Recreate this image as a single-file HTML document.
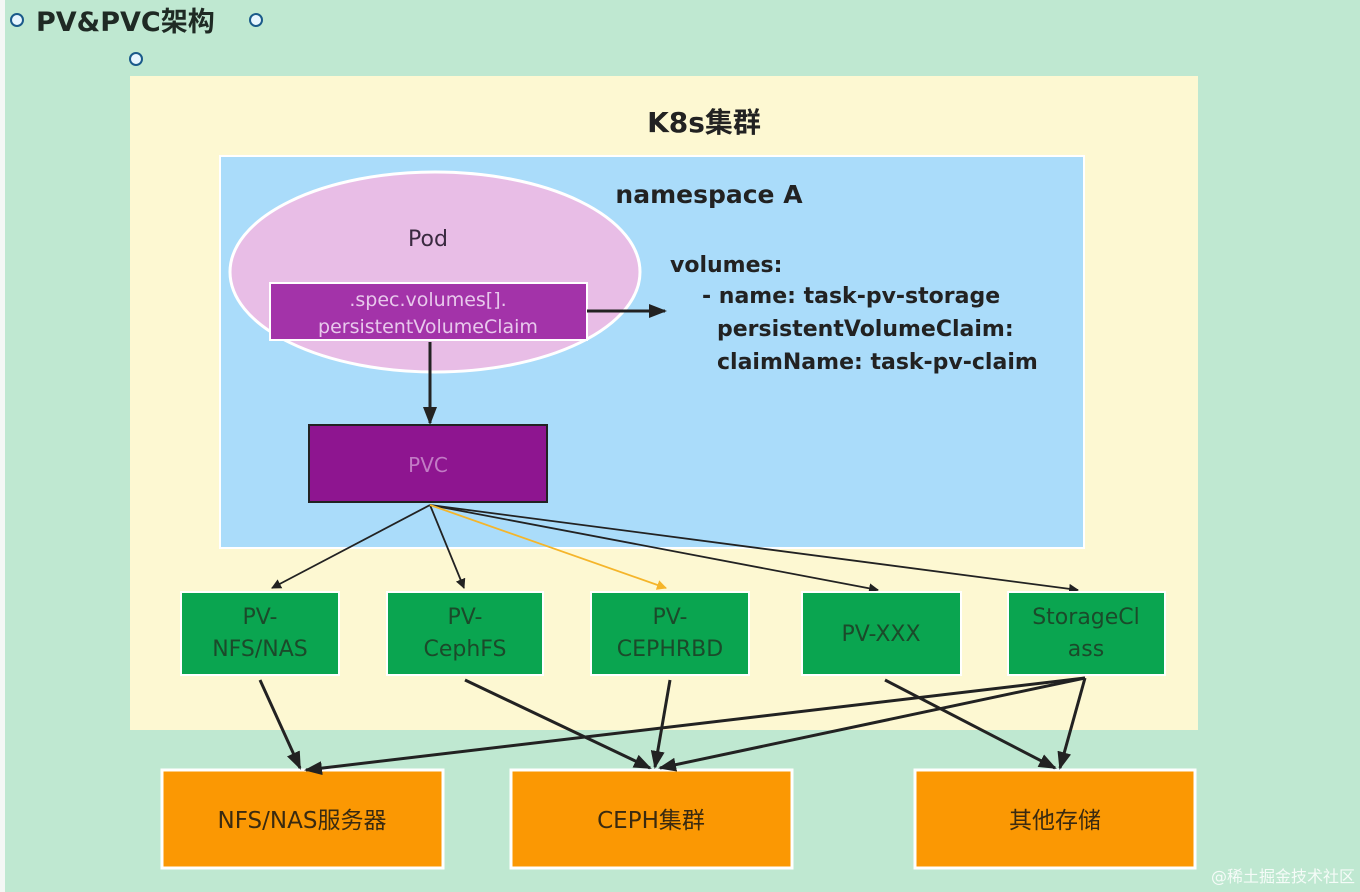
<!DOCTYPE html>
<html><head><meta charset="utf-8"><style>
html,body{margin:0;padding:0;width:1360px;height:892px;overflow:hidden;background:#bfe8d1;}
svg{display:block}
text{font-family:"DejaVu Sans","Noto Sans CJK SC",sans-serif;}
</style></head><body>
<svg width="1360" height="892" viewBox="0 0 1360 892" xmlns="http://www.w3.org/2000/svg">
<defs>
<marker id="a" markerWidth="10" markerHeight="10" refX="9" refY="5" orient="auto" markerUnits="userSpaceOnUse"><path d="M0,0 L10,5 L0,10 z" fill="#222"/></marker>
<marker id="ab" markerWidth="18" markerHeight="14" refX="16" refY="7" orient="auto" markerUnits="userSpaceOnUse"><path d="M0,0 L18,7 L0,14 z" fill="#222"/></marker>
<marker id="ay" markerWidth="10" markerHeight="10" refX="9" refY="5" orient="auto" markerUnits="userSpaceOnUse"><path d="M0,0 L10,5 L0,10 z" fill="#f5b52a"/></marker>
</defs>
<rect x="0" y="0" width="1360" height="892" fill="#bfe8d1"/>
<rect x="0" y="0" width="5" height="892" fill="#f4f7f5"/>
<circle cx="17" cy="20" r="6" fill="#e8f6ff" stroke="#1a5a8a" stroke-width="2"/>
<circle cx="256" cy="20" r="6" fill="#e8f6ff" stroke="#1a5a8a" stroke-width="2"/>
<circle cx="136" cy="59" r="6" fill="#e8f6ff" stroke="#1a5a8a" stroke-width="2"/>
<text x="36" y="31" font-size="27" font-weight="bold" fill="#1f2a24">PV&amp;PVC架构</text>

<rect x="130" y="76" width="1068" height="654" fill="#fdf8d2"/>
<text x="704" y="132" font-size="28" font-weight="bold" fill="#222" text-anchor="middle">K8s集群</text>
<rect x="220" y="156" width="864" height="392" fill="#aadcfa" stroke="#fff" stroke-width="2"/>
<text x="709" y="203" font-size="25" font-weight="bold" fill="#222" text-anchor="middle">namespace A</text>

<ellipse cx="435" cy="272" rx="205" ry="100" fill="#e8bde6" stroke="#fff" stroke-width="3"/>
<text x="428" y="246" font-size="22" fill="#3a2a40" text-anchor="middle">Pod</text>
<rect x="270" y="283" width="317" height="57" fill="#a333a9" stroke="#fff" stroke-width="2"/>
<text x="428" y="306" font-size="19" fill="#e8c8ec" text-anchor="middle">.spec.volumes[].</text>
<text x="428" y="333" font-size="19" fill="#e8c8ec" text-anchor="middle">persistentVolumeClaim</text>
<line x1="587" y1="311" x2="665" y2="311" stroke="#222" stroke-width="3" marker-end="url(#ab)"/>
<line x1="430" y1="342" x2="430" y2="423" stroke="#222" stroke-width="3" marker-end="url(#ab)"/>

<g font-size="22" font-weight="bold" fill="#222">
<text x="670" y="272">volumes:</text>
<text x="702" y="303">- name: task-pv-storage</text>
<text x="717" y="336">persistentVolumeClaim:</text>
<text x="717" y="369">claimName: task-pv-claim</text>
</g>

<rect x="309" y="425" width="238" height="77" fill="#8e1590" stroke="#222" stroke-width="2"/>
<text x="428" y="472" font-size="20" fill="#c27bc5" text-anchor="middle">PVC</text>

<g stroke="#222" stroke-width="1.8" fill="none">
<line x1="430" y1="505" x2="272" y2="588" marker-end="url(#a)"/>
<line x1="430" y1="505" x2="464" y2="588" marker-end="url(#a)"/>
<line x1="430" y1="505" x2="878" y2="590" marker-end="url(#a)"/>
<line x1="430" y1="505" x2="1078" y2="590" marker-end="url(#a)"/>
</g>
<line x1="430" y1="505" x2="666" y2="588" stroke="#f5b52a" stroke-width="1.8" marker-end="url(#ay)"/>

<g fill="#0aa550" stroke="#fff" stroke-width="2">
<rect x="181" y="592" width="158" height="83"/>
<rect x="387" y="592" width="156" height="83"/>
<rect x="591" y="592" width="158" height="83"/>
<rect x="802" y="592" width="159" height="83"/>
<rect x="1008" y="592" width="157" height="83"/>
</g>
<g font-size="22" fill="#1b4a2a" text-anchor="middle">
<text x="260" y="624">PV-</text><text x="260" y="656">NFS/NAS</text>
<text x="465" y="624">PV-</text><text x="465" y="656">CephFS</text>
<text x="670" y="624">PV-</text><text x="670" y="656">CEPHRBD</text>
<text x="881" y="641">PV-XXX</text>
<text x="1086" y="624">StorageCl</text><text x="1086" y="656">ass</text>
</g>

<g fill="#fb9803" stroke="#fff" stroke-width="3">
<rect x="162" y="770" width="281" height="98"/>
<rect x="511" y="770" width="281" height="98"/>
<rect x="915" y="770" width="280" height="98"/>
</g>
<g font-size="23" fill="#3a2a10" text-anchor="middle">
<text x="302" y="828">NFS/NAS服务器</text>
<text x="651" y="828">CEPH集群</text>
<text x="1055" y="828">其他存储</text>
</g>

<g stroke="#222" stroke-width="3" fill="none">
<line x1="260" y1="680" x2="300" y2="768" marker-end="url(#ab)"/>
<line x1="465" y1="680" x2="650" y2="768" marker-end="url(#ab)"/>
<line x1="670" y1="680" x2="655" y2="767" marker-end="url(#ab)"/>
<line x1="885" y1="680" x2="1055" y2="768" marker-end="url(#ab)"/>
<line x1="1085" y1="678" x2="306" y2="770" marker-end="url(#ab)"/>
<line x1="1085" y1="678" x2="660" y2="768" marker-end="url(#ab)"/>
<line x1="1085" y1="678" x2="1060" y2="768" marker-end="url(#ab)"/>
</g>
<text x="1355" y="882" font-size="16" fill="#ffffff" text-anchor="end" opacity="0.85">@稀土掘金技术社区</text>
</svg>
</body></html>
